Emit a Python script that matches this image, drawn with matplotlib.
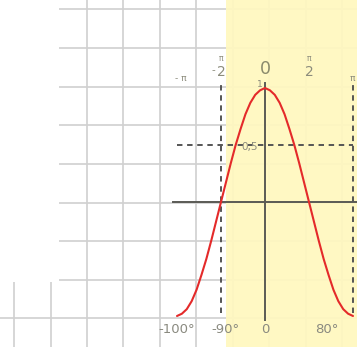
import numpy as np
import matplotlib
matplotlib.use("Agg")
import matplotlib.pyplot as plt
from matplotlib.patches import Rectangle

# ---- data ----
angles_deg = list(range(-180, 181, 10))
cos_values = [-1.00, -0.98, -0.94, -0.87, -0.77, -0.64, -0.50, -0.34, -0.17,
              0.00, 0.17, 0.34, 0.50, 0.64, 0.77, 0.87, 0.94, 0.98,
              1.00,
              0.98, 0.94, 0.87, 0.77, 0.64, 0.50, 0.34, 0.17, 0.00,
              -0.17, -0.34, -0.50, -0.64, -0.77, -0.87, -0.94, -0.98, -1.00]
guide_x = [-np.pi / 2, np.pi]          # dashed vertical guides
guide_y = [0.5]                         # dashed horizontal guide
top_tick_vals = [-np.pi, -np.pi / 2, 0, np.pi / 2, np.pi]
bottom_labels = ["-100°", "-90°", "0", "80°"]
bottom_label_pos = [-3.15, -1.43, 0.0, 2.22]

# ---- layout constants ----
W, H = 357, 347
X0, Y0 = 265, 202            # pixel of origin
KX, KY = 88 / np.pi, 114     # px per unit

fig = plt.figure(figsize=(W / 100, H / 100), dpi=100)

# background grid paper
bg = fig.add_axes([0, 0, 1, 1])
bg.set_xlim(0, W)
bg.set_ylim(H, 0)
bg.set_xticks([14, 51, 87, 123, 160, 196, 233, 269, 306, 342])
bg.set_yticks([9, 48, 87, 125, 164, 203, 241, 280, 318])
bg.set_axisbelow(True)
bg.grid(True, color="#d0d0d0", lw=1.2)
bg.tick_params(length=0, labelbottom=False, labelleft=False)
for s in bg.spines.values():
    s.set_visible(False)
bg.add_patch(Rectangle((0, 0), 58.5, 281.5, facecolor="white", edgecolor="none", zorder=1))
bg.add_patch(Rectangle((226, 0), W - 226, H, facecolor="#fff8c0", edgecolor="none",
                       alpha=0.94, zorder=2))

# main chart axes
ax = fig.add_axes([0, 0, 1, 1])
ax.patch.set_alpha(0)
ax.set_xlim(-X0 / KX, (W - X0) / KX)
ax.set_ylim((Y0 - H) / KY, Y0 / KY)
ax.axis("off")

axis_col = "#5a5a55"
ax.axhline(0, xmin=173 / W, xmax=1, color=axis_col, lw=1.4, zorder=3)
ax.axvline(0, ymin=(H - 320) / H, ymax=(H - 83) / H, color=axis_col, lw=1.4, zorder=3)

dash = (0, (2.8, 2.4))
ax.vlines(guide_x, -0.97, 1.03, colors="#555555", lw=1.4, linestyles=[dash], zorder=3)
ax.hlines(guide_y, -np.pi, np.pi, colors="#555555", lw=1.4, linestyles=[dash], zorder=3)

ax.plot(np.deg2rad(angles_deg), cos_values, color="#e42a2a", lw=1.5, zorder=4,
        solid_capstyle="round")

tc = "#8c8c7c"
# top labels
ax.text(top_tick_vals[0] + 0.15, 1.08, "- π", fontsize=6.5, color=tc, ha="center", va="center")
ax.text(top_tick_vals[1] - 0.28, 1.16, "-", fontsize=7.5, color=tc, ha="center", va="center")
ax.text(top_tick_vals[1], 1.255, "π", fontsize=5.5, color=tc, ha="center", va="center")
ax.text(top_tick_vals[1], 1.14, "2", fontsize=10, color=tc, ha="center", va="center")
ax.text(top_tick_vals[2], 1.165, "0", fontsize=12.5, color="#8a8a6c", ha="center", va="center")
ax.text(top_tick_vals[3], 1.255, "π", fontsize=5.5, color=tc, ha="center", va="center")
ax.text(top_tick_vals[3], 1.14, "2", fontsize=10, color=tc, ha="center", va="center")
ax.text(top_tick_vals[4] - 0.03, 1.08, "π", fontsize=6.5, color=tc, ha="center", va="center")

ax.text(-0.2, 1.03, "1", fontsize=6.5, color=tc, ha="center", va="center")
ax.text(-0.55, 0.48, "0,5", fontsize=7.5, color=tc, ha="center", va="center")

for lab, pos in zip(bottom_labels, bottom_label_pos):
    ax.text(pos, -1.12, lab, fontsize=9.5, color="#8a8a80", ha="center", va="center")

fig.savefig("out.png", dpi=100)
